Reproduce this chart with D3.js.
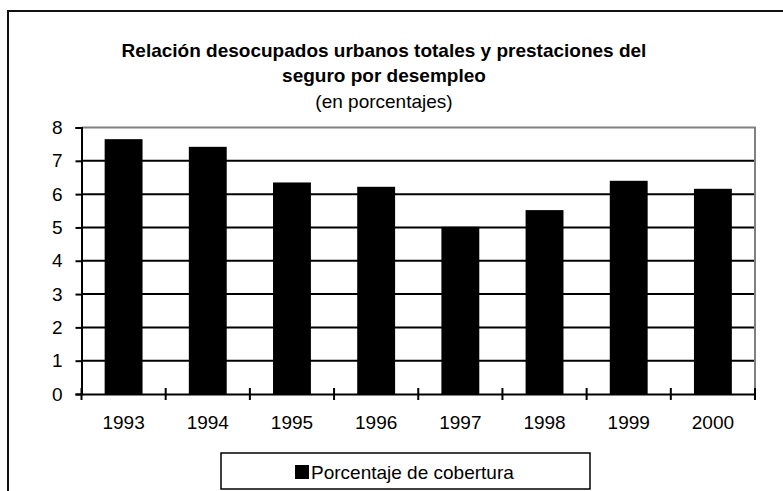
<!DOCTYPE html>
<html>
<head>
<meta charset="utf-8">
<script src="https://cdn.jsdelivr.net/npm/d3@7"></script>
<style>
  body { margin: 0; background: #fff; }
  svg { display: block; font-family: "Liberation Sans", Arial, sans-serif; }
</style>
</head>
<body>
<svg id="chart" width="783" height="491"></svg>
<script>
// data
var years = ["1993", "1994", "1995", "1996", "1997", "1998", "1999", "2000"];
var cobertura = [7.65, 7.42, 6.35, 6.22, 5.02, 5.52, 6.4, 6.16];
var yTicks = [0, 1, 2, 3, 4, 5, 6, 7, 8];
var titleLines = ["Relación desocupados urbanos totales y prestaciones del", "seguro por desempleo"];
var subtitle = "(en porcentajes)";
var legendLabel = "Porcentaje de cobertura";

var svg = d3.select("#chart");

// plot area
var plotLeft = 81.5, plotRight = 755, plotTop = 127.5, plotBottom = 394;
var fontSize = 19;

var x = d3.scaleBand()
  .domain(years)
  .range([plotLeft, plotRight])
  .paddingInner(0.55)
  .paddingOuter(0.275);

var y = d3.scaleLinear()
  .domain([0, 8])
  .range([plotBottom, plotTop]);

// outer frame (right and bottom edges fall off the picture)
svg.append("rect")
  .attr("x", 8).attr("y", 11)
  .attr("width", 820).attr("height", 520)
  .attr("fill", "none")
  .attr("stroke", "#111")
  .attr("stroke-width", 2);

// titles
svg.selectAll("text.title")
  .data(titleLines)
  .enter().append("text")
  .attr("class", "title")
  .attr("x", 384)
  .attr("y", function(d, i) { return 57 + i * 25; })
  .attr("text-anchor", "middle")
  .attr("font-size", fontSize)
  .attr("font-weight", "bold")
  .text(function(d) { return d; });

svg.append("text")
  .attr("x", 384).attr("y", 108)
  .attr("text-anchor", "middle")
  .attr("font-size", fontSize)
  .text(subtitle);

// gridlines
svg.append("g")
  .selectAll("line")
  .data(yTicks.filter(function(d) { return d > 0 && d < 8; }))
  .enter().append("line")
  .attr("x1", plotLeft).attr("x2", plotRight)
  .attr("y1", function(d) { return y(d); })
  .attr("y2", function(d) { return y(d); })
  .attr("stroke", "#000")
  .attr("stroke-width", 2);

// plot border top / right in grey
svg.append("path")
  .attr("d", "M" + plotLeft + "," + plotTop + "H" + plotRight + "V" + plotBottom)
  .attr("fill", "none")
  .attr("stroke", "#808080")
  .attr("stroke-width", 2);

// bars
svg.append("g")
  .selectAll("rect")
  .data(years)
  .enter().append("rect")
  .attr("x", function(d) { return x(d); })
  .attr("width", x.bandwidth())
  .attr("y", function(d, i) { return y(cobertura[i]); })
  .attr("height", function(d, i) { return y(0) - y(cobertura[i]); })
  .attr("fill", "#000");

// y axis
var yAxis = svg.append("g")
  .attr("transform", "translate(" + plotLeft + ",0)")
  .call(d3.axisLeft(y).tickValues(yTicks).tickSize(6).tickPadding(13).tickFormat(d3.format("d")));
yAxis.select(".domain").attr("stroke", "#000").attr("stroke-width", 2);
yAxis.selectAll(".tick line").attr("stroke", "#000").attr("stroke-width", 2);
yAxis.selectAll("text").attr("font-size", fontSize).attr("fill", "#000")
  .attr("font-family", "Liberation Sans, Arial, sans-serif");

// x axis
var xAxis = svg.append("g")
  .attr("transform", "translate(0," + plotBottom + ")")
  .call(d3.axisBottom(x).tickSize(0).tickPadding(22));
xAxis.select(".domain").attr("stroke", "#000").attr("stroke-width", 2);
xAxis.selectAll("text").attr("font-size", fontSize).attr("fill", "#000")
  .attr("font-family", "Liberation Sans, Arial, sans-serif");

// cross ticks at category boundaries
var bounds = years.map(function(d) { return x(d) - x.step() * x.paddingInner() / 2; });
bounds.push(plotRight);
xAxis.selectAll("line.cross")
  .data(bounds)
  .enter().append("line")
  .attr("class", "cross")
  .attr("x1", function(d) { return d; }).attr("x2", function(d) { return d; })
  .attr("y1", -6).attr("y2", 6)
  .attr("stroke", "#000")
  .attr("stroke-width", 2);

// legend
var legend = svg.append("g").attr("transform", "translate(221,453)");
legend.append("rect")
  .attr("width", 369).attr("height", 36)
  .attr("fill", "#fff")
  .attr("stroke", "#000")
  .attr("stroke-width", 1.5);
legend.append("rect")
  .attr("x", 74).attr("y", 12)
  .attr("width", 14).attr("height", 14)
  .attr("fill", "#000");
legend.append("text")
  .attr("x", 90).attr("y", 25.5)
  .attr("font-size", fontSize)
  .text(legendLabel);
</script>
</body>
</html>
